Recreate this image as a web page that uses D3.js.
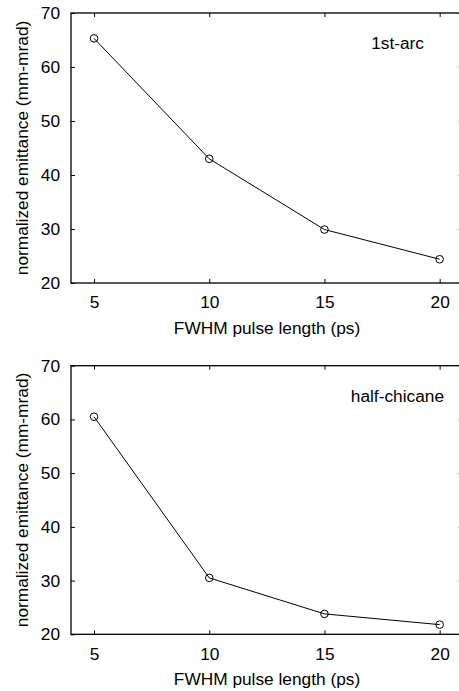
<!DOCTYPE html>
<html>
<head>
<meta charset="utf-8">
<script src="https://cdn.jsdelivr.net/npm/d3@7"></script>
<style>
  body { margin: 0; background: #fff; }
  svg { display: block; }
  text { font-family: "Liberation Sans", Arial, sans-serif; fill: #000; }
</style>
</head>
<body>
<svg id="chart" width="459" height="691"></svg>
<script>
const pulseLength = [5, 10, 15, 20];
const arcEmittance = [65.3, 43.0, 29.9, 24.4];
const chicaneEmittance = [60.5, 30.5, 23.8, 21.8];
const xTicks = [5, 10, 15, 20];
const yTicks = [20, 30, 40, 50, 60, 70];

const panels = [
    { label: "1st-arc", values: arcEmittance, top: 13, bottom: 283, tagX: 424 },
    { label: "half-chicane", values: chicaneEmittance, top: 365.7, bottom: 634.3, tagX: 444 }
];

const svg = d3.select("#chart");
const left = 71, right = 462.7;
const fs = "17.3px";

const xScale = d3.scaleLinear().domain([4, 21]).range([left, right]);

panels.forEach(p => {
    const yScale = d3.scaleLinear().domain([20, 70]).range([p.bottom, p.top]);
    const g = svg.append("g");

    // frame
    g.append("rect")
        .attr("x", left).attr("y", p.top)
        .attr("width", right - left).attr("height", p.bottom - p.top)
        .attr("fill", "none").attr("stroke", "#000").attr("stroke-width", 1.3);

    g.append("g")
        .attr("transform", `translate(0,${p.bottom})`)
        .call(d3.axisBottom(xScale).tickValues(xTicks).tickSize(-4).tickPadding(13));
    g.append("g")
        .attr("transform", `translate(0,${p.top})`)
        .call(d3.axisTop(xScale).tickValues(xTicks).tickSize(-4).tickFormat(""));
    g.append("g")
        .attr("transform", `translate(${left},0)`)
        .call(d3.axisLeft(yScale).tickValues(yTicks).tickSize(-4).tickPadding(11));
    g.append("g")
        .attr("transform", `translate(${right},0)`)
        .call(d3.axisRight(yScale).tickValues(yTicks).tickSize(-4).tickFormat(""));

    g.selectAll(".domain").remove();
    g.selectAll(".tick line").attr("stroke", "#000");
    g.selectAll(".tick text").style("font-size", fs).attr("fill", "#000");
    g.selectAll("text").attr("font-family", null);

    // x label
    g.append("text")
        .attr("x", 267)
        .attr("y", p.bottom + 51)
        .attr("text-anchor", "middle")
        .style("font-size", fs)
        .text("FWHM pulse length (ps)");

    // y label
    g.append("text")
        .attr("transform", `translate(28,${(p.top + p.bottom) / 2}) rotate(-90)`)
        .attr("text-anchor", "middle")
        .style("font-size", fs)
        .text("normalized emittance (mm-mrad)");

    // panel tag
    g.append("text")
        .attr("x", p.tagX)
        .attr("y", p.top + 36)
        .attr("text-anchor", "end")
        .style("font-size", fs)
        .text(p.label);

    const pts = pulseLength.map((x, i) => [x, p.values[i]]);
    const line = d3.line().x(d => xScale(d[0])).y(d => yScale(d[1]));

    g.append("path")
        .datum(pts)
        .attr("d", line)
        .attr("fill", "none")
        .attr("stroke", "#000")
        .attr("stroke-width", 1);

    g.selectAll("circle")
        .data(pts)
        .enter().append("circle")
        .attr("cx", d => xScale(d[0]))
        .attr("cy", d => yScale(d[1]))
        .attr("r", 3.8)
        .attr("fill", "none")
        .attr("stroke", "#000")
        .attr("stroke-width", 1);
});
</script>
</body>
</html>
